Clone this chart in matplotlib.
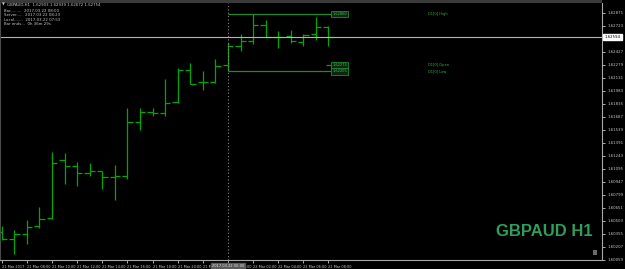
import matplotlib
matplotlib.use("Agg")
import matplotlib.pyplot as plt
from matplotlib.patches import Rectangle
import numpy as np

# GBPAUD H1 bars, 21 Mar 06:00 .. 22 Mar 08:00
opens = [1.60376, 1.60297, 1.60354, 1.60441, 1.60532, 1.61193, 1.61128, 1.61053, 1.61068,
         1.61008, 1.61015, 1.61624, 1.61745, 1.61734, 1.61858, 1.62225, 1.62085, 1.62087,
         1.62273, 1.62489, 1.62546, 1.62735, 1.62597, 1.62614, 1.62539, 1.62629, 1.62709]
highs = [1.60448, 1.60399, 1.60516, 1.60663, 1.61291, 1.61272, 1.61173, 1.61167, 1.61072,
         1.61136, 1.61786, 1.61786, 1.61786, 1.62119, 1.62244, 1.62301, 1.62213, 1.62346,
         1.62534, 1.62629, 1.62860, 1.62792, 1.62667, 1.62678, 1.62633, 1.62829, 1.62724]
lows = [1.60289, 1.60127, 1.60240, 1.60418, 1.60528, 1.60921, 1.60901, 1.61015, 1.60864,
        1.60743, 1.60985, 1.61544, 1.61695, 1.61695, 1.61847, 1.62062, 1.61998, 1.62074,
        1.62205, 1.62440, 1.62516, 1.62595, 1.62471, 1.62527, 1.62500, 1.62565, 1.62489]
closes = [1.60297, 1.60354, 1.60430, 1.60524, 1.61167, 1.61133, 1.61045, 1.61068, 1.61008,
          1.61015, 1.61624, 1.61745, 1.61734, 1.61847, 1.62225, 1.62065, 1.62087, 1.62270,
          1.62489, 1.62546, 1.62735, 1.62597, 1.62602, 1.62546, 1.62622, 1.62709, 1.62594]

time_labels = ["21 Mar 2017", "21 Mar 08:00", "21 Mar 10:00", "21 Mar 12:00", "21 Mar 14:00",
               "21 Mar 16:00", "21 Mar 18:00", "21 Mar 20:00", "21 Mar 22:00", "22 Mar 00:00",
               "22 Mar 02:00", "22 Mar 04:00", "22 Mar 06:00", "22 Mar 08:00"]
price_ticks = [1.62871, 1.62723, 1.62575, 1.62427, 1.62279, 1.62131, 1.61983, 1.61835,
               1.61687, 1.61539, 1.61391, 1.61243, 1.61095, 1.60947, 1.60799, 1.60651,
               1.60503, 1.60355, 1.60207, 1.60059]

d1_high, d1_open, d1_low = 1.62860, 1.62273, 1.62205
day_start = 18  # bar index of 22 Mar 00:00

info_lines = ["GBPAUD,H1  1.62903 1.62939 1.62672 1.62754",
              "Bar.........  2017.03.22 08:00",
              "Server.....  2017.03.22 08:23",
              "Local.......  2017.03.22 07:53",
              "Bar ends...  0h 36m 29s"]

bar_col = "#00a800"
d1_col = "#1f8a2e"
txt_col = "#c8c8c8"

fig = plt.figure(figsize=(6.25, 2.69), dpi=100, facecolor="black")
ax = fig.add_axes([0.0, 9 / 269, 602 / 625, 257 / 269])
ax.set_facecolor("black")

x = np.arange(len(opens))
ax.vlines(x, lows, highs, color=bar_col, lw=0.9)
ax.hlines(opens, x - 0.42, x, color=bar_col, lw=0.9)
ax.hlines(closes, x, x + 0.42, color=bar_col, lw=0.9)

ax.set_xlim(-0.135, 47.76)
ax.set_ylim(1.60070, 1.62984)

# current price line + label on the price scale
last = closes[-1]
ax.axhline(last, color="#b4b4b4", lw=0.8)
ax.text(1.004, last, f"{last:.5f}", transform=ax.get_yaxis_transform(), fontsize=2.8,
        color="black", ha="left", va="center", clip_on=False, zorder=6,
        bbox=dict(facecolor="white", edgecolor="white", pad=0.8))

# day separator
ax.axvline(day_start, color="#8a8a8a", lw=0.8, ls=(0, (1, 2)))
ax.text(day_start, -0.022, "2017.03.22 00:00", transform=ax.get_xaxis_transform(),
        fontsize=2.6, color="#e0e0e0", ha="center", va="center", clip_on=False, zorder=6,
        bbox=dict(facecolor="#5a5a5a", edgecolor="#5a5a5a", pad=0.8))

# D1 levels
box_x = 26.3
ax.hlines([d1_high, d1_low], day_start, box_x, color=d1_col, lw=0.9)
ax.hlines(d1_open, box_x - 0.5, box_x, color=d1_col, lw=0.9)
for val, name in [(d1_high, "High"), (d1_open, "Open"), (d1_low, "Low")]:
    ax.text(box_x, val, f"{val:.5f}", fontsize=2.6, color="#3cc050", ha="left", va="center",
            bbox=dict(facecolor="#0c260f", edgecolor=d1_col, pad=0.8, lw=0.6))
    ax.text(33.9, val, f"D1[0] {name}", fontsize=2.6, color="#2eb040", ha="left", va="center")

# axes styling
ax.yaxis.tick_right()
ax.set_yticks(price_ticks)
ax.set_yticklabels([f"{p:.5f}" for p in price_ticks])
ax.set_xticks(range(0, 27, 2))
ax.set_xticklabels(time_labels, ha="left")
ax.tick_params(axis="y", length=2, width=0.6, pad=2, labelsize=2.8, colors=txt_col)
ax.tick_params(axis="x", length=2, width=0.6, pad=1.5, labelsize=2.5, colors=txt_col)
for s in ["right", "bottom"]:
    ax.spines[s].set_color("#a8a8a8")
    ax.spines[s].set_linewidth(0.8)
ax.spines["left"].set_color("#4a4a4a")
ax.spines["top"].set_visible(False)

fig.patches.append(Rectangle((0, 266 / 269), 602 / 625, 3 / 269, transform=fig.transFigure,
                             facecolor="#3a3a3a", edgecolor="none"))
fig.patches.append(Rectangle((593 / 625, 14 / 269), 4 / 625, 5 / 269, transform=fig.transFigure,
                             facecolor="#6a6a6a", edgecolor="none"))

# info block top-left
fig.text(2 / 625, 1 - 5 / 269, "\u25bc", fontsize=2.6, color=txt_col, va="center")
fig.text(7 / 625, 1 - 5 / 269, info_lines[0], fontsize=2.8, color=txt_col, va="center")
for k, line in enumerate(info_lines[1:]):
    fig.text(4 / 625, 1 - (10.5 + 4.6 * k) / 269, line, fontsize=2.8, color=txt_col, va="center")

fig.text(544 / 625, 37 / 269, "GBPAUD H1", fontsize=12, fontweight="bold",
         family=["Liberation Sans", "DejaVu Sans"], color="#2e9e5a",
         ha="center", va="center")

fig.savefig("out.png", dpi=100, facecolor="black")
